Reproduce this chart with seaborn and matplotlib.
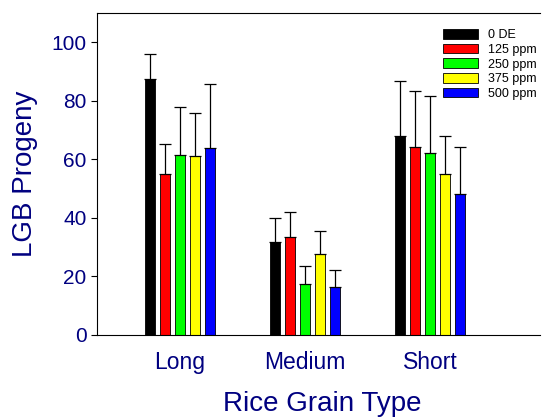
import matplotlib
matplotlib.use("Agg")
import matplotlib.pyplot as plt
import seaborn as sns
import pandas as pd
import numpy as np

categories = ["Long", "Medium", "Short"]
treatments = ["0 DE", "125 ppm", "250 ppm", "375 ppm", "500 ppm"]
means = {
    "0 DE":    [87.3, 31.8, 68.0],
    "125 ppm": [55.0, 33.4, 64.2],
    "250 ppm": [61.6, 17.5, 62.2],
    "375 ppm": [61.1, 27.5, 55.1],
    "500 ppm": [63.7, 16.4, 48.2],
}
upper_err = {
    "0 DE":    [8.8, 8.2, 18.9],
    "125 ppm": [10.3, 8.6, 19.1],
    "250 ppm": [16.2, 6.1, 19.4],
    "375 ppm": [14.6, 8.1, 12.9],
    "500 ppm": [22.1, 5.6, 16.0],
}
colors = ["#000000", "#ff0000", "#00ff00", "#ffff00", "#0000ff"]

rows = []
for t in treatments:
    for c, m, e in zip(categories, means[t], upper_err[t]):
        rows.append({"Type": c, "Treatment": t, "Mean": m, "Err": e})
df = pd.DataFrame(rows)

plt.rcParams["font.family"] = ["Liberation Sans", "DejaVu Sans"]
navy = "#000080"

fig = plt.figure(figsize=(5.45, 4.18), dpi=100)
ax = fig.add_axes([0.178, 0.199, 0.813, 0.770])

sns.barplot(data=df, x="Type", y="Mean", hue="Treatment", order=categories,
            hue_order=treatments, palette=colors, width=0.6, gap=0.37,
            errorbar=None, edgecolor="black", linewidth=0.6, ax=ax,
            saturation=1)

# upward error bars
for i, t in enumerate(treatments):
    cont = ax.containers[i]
    xs = [p.get_x() + p.get_width() / 2 for p in cont.patches]
    m = df[df.Treatment == t].set_index("Type").loc[categories]
    ax.errorbar(xs, m["Mean"].values, yerr=[np.zeros(len(xs)), m["Err"].values],
                fmt="none", ecolor="black", elinewidth=0.9, capsize=4,
                capthick=0.9, zorder=1)

ax.set_xlim(-0.664, 2.88)
ax.set_ylim(0, 110)
ax.set_yticks([0, 20, 40, 60, 80, 100])
ax.tick_params(axis="y", direction="out", length=4, labelsize=15, labelcolor=navy, width=0.8)
ax.tick_params(axis="x", length=0, labelsize=16.5, labelcolor=navy, pad=12)
ax.set_xlabel("Rice Grain Type", fontsize=20, color=navy, va="baseline")
ax.xaxis.set_label_coords(0.508, -0.236)
ax.set_ylabel("LGB Progeny", fontsize=20, color=navy, labelpad=10)
ax.spines["right"].set_visible(False)
for s in ["top", "left", "bottom"]:
    ax.spines[s].set_linewidth(0.8)

leg = ax.legend(loc="upper right", bbox_to_anchor=(1.008, 0.973), frameon=False,
                fontsize=9, handlelength=2.75, handleheight=0.8, labelspacing=0.2,
                handletextpad=0.8, borderaxespad=0.2)
fig.savefig("out.png", dpi=100)
